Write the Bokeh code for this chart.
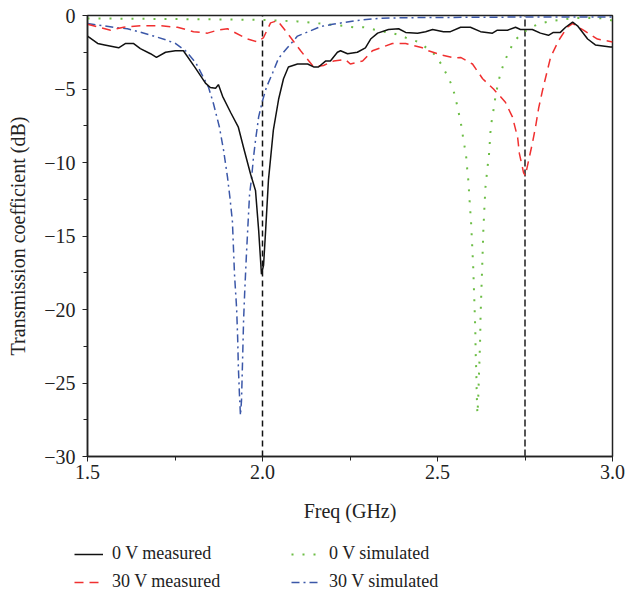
from bokeh.plotting import figure
from bokeh.models import Range1d, FixedTicker, Legend, LegendItem
from bokeh.layouts import column
from bokeh.embed import file_html
from bokeh.resources import INLINE

# ---------------- data ----------------
freq_0v_meas = [1.500, 1.529, 1.549, 1.589, 1.609, 1.631, 1.651, 1.680, 1.697, 1.723,
                1.751, 1.774, 1.809, 1.837, 1.851, 1.866, 1.874, 1.886, 1.909, 1.931,
                1.946, 1.966, 1.980, 1.989, 1.997, 2.003, 2.009, 2.017, 2.031, 2.046,
                2.060, 2.074, 2.100, 2.129, 2.146, 2.160, 2.180, 2.194, 2.214, 2.223,
                2.243, 2.271, 2.294, 2.309, 2.329, 2.360, 2.389, 2.409, 2.443, 2.466,
                2.486, 2.517, 2.537, 2.566, 2.594, 2.623, 2.657, 2.671, 2.700, 2.723,
                2.737, 2.771, 2.794, 2.817, 2.831, 2.851, 2.866, 2.886, 2.900, 2.929,
                2.951, 2.994, 3.000]
db_0v_meas = [-1.4, -1.9, -2.0, -2.2, -1.9, -1.9, -2.25, -2.6, -2.85, -2.5,
              -2.4, -2.4, -3.6, -4.6, -4.9, -4.95, -4.7, -5.5, -6.6, -7.6,
              -9.0, -10.8, -11.9, -14.6, -17.6, -17.0, -14.6, -11.2, -7.8, -5.7,
              -4.3, -3.5, -3.3, -3.3, -3.5, -3.5, -3.1, -3.1, -2.5, -2.4,
              -2.6, -2.5, -2.2, -1.6, -1.2, -0.95, -0.9, -1.15, -1.2, -1.1,
              -0.95, -1.1, -1.1, -0.8, -0.8, -1.1, -1.2, -1.0, -1.0, -0.8,
              -0.95, -0.95, -1.2, -1.35, -1.15, -1.15, -0.8, -0.45, -0.7, -1.6,
              -2.0, -2.15, -2.15]

freq_30v_meas = [1.500, 1.566, 1.603, 1.651, 1.709, 1.757, 1.803, 1.843, 1.871, 1.900,
                 1.957, 1.986, 2.003, 2.023, 2.043, 2.071, 2.109, 2.146, 2.174, 2.203,
                 2.237, 2.251, 2.286, 2.314, 2.371, 2.409, 2.457, 2.474, 2.514, 2.551,
                 2.566, 2.600, 2.629, 2.660, 2.694, 2.714, 2.729, 2.734, 2.746, 2.751,
                 2.760, 2.771, 2.780, 2.789, 2.800, 2.823, 2.846, 2.871, 2.886, 2.917,
                 2.957, 3.000]
db_30v_meas = [-0.6, -1.0, -0.8, -0.7, -0.7, -0.8, -1.1, -1.2, -1.0, -0.9,
               -1.6, -1.8, -1.5, -0.5, -0.35, -1.2, -2.4, -3.5, -3.4, -3.1,
               -3.0, -3.3, -3.1, -2.4, -1.9, -1.9, -2.2, -2.4, -2.7, -2.9,
               -2.85, -3.3, -4.3, -5.0, -5.9, -6.9, -8.3, -9.4, -10.7, -10.9,
               -9.9, -8.7, -7.6, -6.3, -5.1, -2.85, -1.7, -0.8, -0.55, -1.0,
               -1.6, -1.8]

freq_0v_sim = [1.500, 1.800, 2.000, 2.100, 2.166, 2.228, 2.261, 2.289, 2.318, 2.347,
               2.371, 2.394, 2.418, 2.447, 2.471, 2.494, 2.513, 2.528, 2.542, 2.549,
               2.556, 2.563, 2.569, 2.573, 2.578, 2.583, 2.585, 2.588, 2.592, 2.596,
               2.599, 2.602, 2.604, 2.606, 2.608, 2.609, 2.611, 2.612, 2.614, 2.616,
               2.618, 2.620, 2.622, 2.623, 2.625, 2.627, 2.629, 2.631, 2.634, 2.637,
               2.640, 2.643, 2.647, 2.649, 2.651, 2.654, 2.659, 2.663, 2.669, 2.675,
               2.683, 2.694, 2.707, 2.721, 2.742, 2.768, 2.792, 2.821, 2.851, 2.880,
               2.913, 2.975, 3.000]
db_0v_sim = [-0.2, -0.25, -0.3, -0.4, -0.55, -0.7, -0.8, -0.8, -0.95, -1.1,
             -1.2, -1.35, -1.6, -1.8, -2.25, -2.7, -3.4, -4.1, -4.8, -5.4,
             -6.1, -6.9, -7.6, -8.3, -9.0, -9.8, -10.5, -11.2, -12.7, -14.1,
             -15.6, -17.1, -18.5, -19.9, -21.4, -22.9, -24.4, -25.7, -27.1, -26.3,
             -24.8, -23.4, -21.9, -20.5, -19.0, -17.6, -16.1, -14.6, -13.1, -11.7,
             -11.0, -10.3, -9.5, -8.8, -8.0, -7.3, -6.6, -5.9, -5.1, -4.4,
             -3.7, -3.0, -2.3, -1.7, -1.2, -0.8, -0.55, -0.4, -0.3, -0.2,
             -0.15, -0.2, -0.35]

freq_30v_sim = [1.500, 1.589, 1.614, 1.646, 1.689, 1.723, 1.751, 1.780, 1.809, 1.831,
                1.846, 1.860, 1.877, 1.889, 1.900, 1.907, 1.914, 1.917, 1.920, 1.926,
                1.929, 1.931, 1.934, 1.937, 1.940, 1.943, 1.946, 1.949, 1.954, 1.959,
                1.963, 1.969, 1.974, 1.980, 1.989, 2.000, 2.011, 2.029, 2.046, 2.071,
                2.100, 2.131, 2.166, 2.200, 2.266, 2.331, 2.400, 2.600, 2.800, 3.000]
db_30v_sim = [-0.55, -0.85, -0.9, -1.1, -1.4, -1.65, -1.9, -2.4, -3.2, -4.2,
              -4.9, -6.0, -7.6, -9.2, -11.0, -12.4, -14.0, -15.8, -17.6, -19.9,
              -21.9, -23.9, -25.7, -27.2, -26.2, -23.5, -20.7, -18.9, -16.3, -14.0,
              -12.2, -11.0, -9.7, -8.5, -6.9, -5.8, -4.9, -3.9, -2.9, -2.2,
              -1.4, -1.1, -0.75, -0.6, -0.35, -0.2, -0.15, -0.12, -0.1, -0.1]

marker_freqs = [2.0, 2.75]
marker_top = [0, 0]
marker_bottom = [-30, -30]

x_ticks = [1.5, 2.0, 2.5, 3.0]
x_tick_labels = ["1.5", "2.0", "2.5", "3.0"]
y_ticks = [0, -5, -10, -15, -20, -25, -30]
y_tick_labels = ["0", "\u22125", "\u221210", "\u221215", "\u221220", "\u221225", "\u221230"]

series_labels = ["0 V measured", "30 V measured", "0 V simulated", "30 V simulated"]

FONT = "Liberation Serif"
BLACK = "#111111"
RED = "#f03030"
GREEN = "#6cbd45"
BLUE = "#3b57a8"
STYLE_BLACK = dict(line_color=BLACK, line_width=1.5)
STYLE_RED = dict(line_color=RED, line_width=1.5, line_dash="9 6")
STYLE_GREEN = dict(line_color=GREEN, line_width=2, line_dash="2 9")
STYLE_BLUE = dict(line_color=BLUE, line_width=1.5, line_dash="8 4 2 4")

p = figure(width=626, height=522, output_backend="svg", toolbar_location=None,
           x_range=Range1d(1.5, 3.0), y_range=Range1d(-30, 0),
           frame_width=525, frame_height=441,
           min_border_left=87, min_border_right=14, min_border_top=15, min_border_bottom=66)
p.background_fill_color = "white"
p.border_fill_color = "white"
p.xgrid.visible = False
p.ygrid.visible = False
p.outline_line_color = "#222222"
p.outline_line_width = 1.5

# marker lines
p.segment(x0=[marker_freqs[0]], y0=[marker_bottom[0]], x1=[marker_freqs[0]], y1=[marker_top[0]],
          line_color=BLACK, line_width=1.5, line_dash="6 4")
p.segment(x0=[marker_freqs[1]], y0=[marker_bottom[1]], x1=[marker_freqs[1]], y1=[marker_top[1]],
          line_color="#555555", line_width=2, line_dash="7 3")

p.line(freq_0v_sim, db_0v_sim, **STYLE_GREEN)
p.line(freq_30v_sim, db_30v_sim, **STYLE_BLUE)
p.line(freq_30v_meas, db_30v_meas, **STYLE_RED)
p.line(freq_0v_meas, db_0v_meas, **STYLE_BLACK)

for ax, ticks, labels in ((p.xaxis[0], x_ticks, x_tick_labels), (p.yaxis[0], y_ticks, y_tick_labels)):
    ax.major_label_overrides = {t: l for t, l in zip(ticks, labels)}
    ax.major_label_text_font = FONT
    ax.major_label_text_font_size = "20px"
    ax.major_label_text_color = "#222222"
    ax.axis_label_text_font = FONT
    ax.axis_label_text_font_size = "20px"
    ax.axis_label_text_font_style = "normal"
    ax.axis_label_text_color = "#222222"
    ax.axis_line_color = "#222222"
    ax.axis_line_width = 1.5
    ax.major_tick_line_color = "#222222"
    ax.minor_tick_line_color = "#222222"
    ax.major_tick_in = 0
    ax.major_tick_out = 5
    ax.minor_tick_in = 0
    ax.minor_tick_out = 4

p.xaxis[0].ticker = FixedTicker(ticks=x_ticks, minor_ticks=[1.75, 2.25, 2.75])
p.yaxis[0].ticker = FixedTicker(ticks=y_ticks, minor_ticks=[-2.5, -7.5, -12.5, -17.5, -22.5, -27.5])
p.xaxis[0].axis_label = "Freq (GHz)"
p.yaxis[0].axis_label = "Transmission coefficient (dB)"
p.xaxis[0].major_label_standoff = 3
p.xaxis[0].axis_label_standoff = 18
p.yaxis[0].major_label_standoff = 7
p.yaxis[0].axis_label_standoff = 12

# ---------------- legend strip (series drawn off-range, only keys show) ----------------
lg = figure(width=626, height=70, output_backend="svg", toolbar_location=None,
            x_range=Range1d(-2, -1), y_range=Range1d(10, 11),
            min_border_left=74, min_border_right=0, min_border_top=19, min_border_bottom=0)
for fig in (p, lg):
    try:
        fig.frame_align = False
    except Exception:
        pass
lg.axis.visible = False
lg.xgrid.visible = False
lg.ygrid.visible = False
lg.outline_line_color = None
lg.background_fill_color = "white"
lg.border_fill_color = "white"

l_black = lg.line(freq_0v_meas, db_0v_meas, **STYLE_BLACK)
l_red = lg.line(freq_30v_meas, db_30v_meas, **STYLE_RED)
l_green = lg.line(freq_0v_sim, db_0v_sim, **STYLE_GREEN)
l_blue = lg.line(freq_30v_sim, db_30v_sim, **STYLE_BLUE)

legend = Legend(items=[
    LegendItem(label=series_labels[0], renderers=[l_black]),
    LegendItem(label=series_labels[1], renderers=[l_red]),
    LegendItem(label=series_labels[2], renderers=[l_green]),
    LegendItem(label=series_labels[3], renderers=[l_blue]),
], ncols=2, location="top_left")
legend.border_line_color = None
legend.background_fill_alpha = 0
legend.label_text_font = FONT
legend.label_text_font_size = "18px"
legend.label_text_color = "#222222"
legend.glyph_width = 29
legend.glyph_height = 20
legend.label_standoff = 9
legend.label_width = 172
legend.spacing = 7
legend.padding = 0
legend.margin = 0
lg.add_layout(legend, "center")

layout = column(p, lg, spacing=0)
open("out.html", "w").write(file_html(layout, INLINE))
